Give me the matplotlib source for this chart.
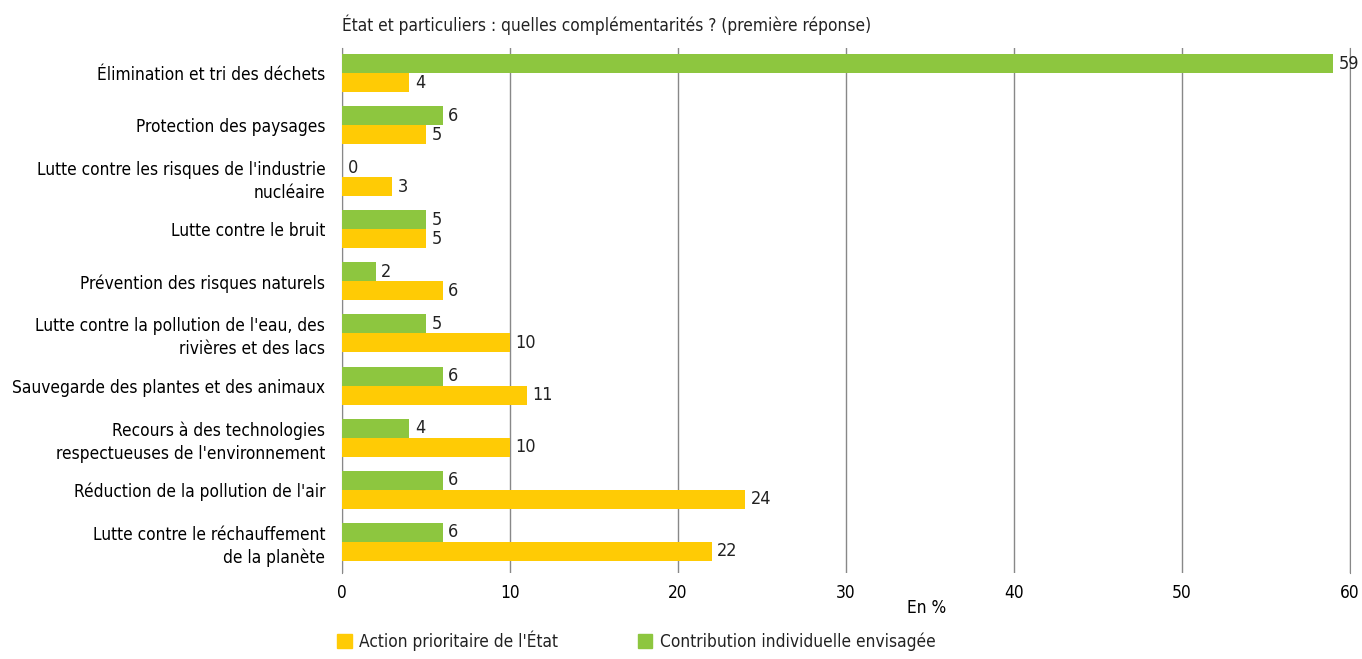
import matplotlib.pyplot as plt
from matplotlib.patches import Patch

categories = [
    "Élimination et tri des déchets",
    "Protection des paysages",
    "Lutte contre les risques de l'industrie\nnucléaire",
    "Lutte contre le bruit",
    "Prévention des risques naturels",
    "Lutte contre la pollution de l'eau, des\nrivières et des lacs",
    "Sauvegarde des plantes et des animaux",
    "Recours à des technologies\nrespectueuses de l'environnement",
    "Réduction de la pollution de l'air",
    "Lutte contre le réchauffement\nde la planète",
]
etat = [4, 5, 3, 5, 6, 10, 11, 10, 24, 22]
individuel = [59, 6, 0, 5, 2, 5, 6, 4, 6, 6]
xticks = [0, 10, 20, 30, 40, 50, 60]

yellow = '#FFCB05'
green = '#8DC63F'
fs = 12.4

plt.rcParams['font.family'] = ['DejaVu Sans']
plt.rcParams['font.stretch'] = 'condensed'
plt.rcParams['font.size'] = fs
plt.rcParams['text.color'] = '#222222'

fig = plt.figure(figsize=(13.62, 6.59), dpi=100)
ax = fig.add_axes([0.2511, 0.1305, 0.7401, 0.7965])

h = 0.365
pos = list(range(len(categories)))
ax.barh([p - h / 2 for p in pos], individuel, height=h, color=green, zorder=3)
ax.barh([p + h / 2 for p in pos], etat, height=h, color=yellow, zorder=3)

for p, v in zip(pos, individuel):
    ax.annotate(f'{v}', xy=(v, p - h / 2), xytext=(4, 0), textcoords='offset points',
                ha='left', va='center', fontsize=fs + 0.6, zorder=4)
for p, v in zip(pos, etat):
    ax.annotate(f'{v}', xy=(v, p + h / 2), xytext=(4, 0), textcoords='offset points',
                ha='left', va='center', fontsize=fs + 0.6, zorder=4)

ax.set_xlim(0, 60)
ax.set_ylim(len(categories) - 1 + 0.6, -0.48)
ax.set_yticks(pos)
ax.set_yticklabels(categories, fontsize=fs, ha='right', linespacing=1.35)
ax.set_xticks(xticks)
ax.tick_params(axis='y', length=0, pad=12)
ax.tick_params(axis='x', length=0, pad=8, labelsize=fs)
ax.grid(axis='x', color='#888888', linewidth=1, zorder=0)
for s in ['top', 'bottom']:
    ax.spines[s].set_visible(False)
ax.spines['left'].set_color('#888888')
ax.spines['right'].set_color('#888888')

ax.set_xlabel('En %', fontsize=fs)
ax.xaxis.set_label_coords(0.58, -0.05)

fig.text(0.2511, 0.962, "État et particuliers : quelles complémentarités ? (première réponse)",
         ha='left', va='center', fontsize=fs)

handles = [Patch(color=yellow), Patch(color=green)]
fig.legend(handles, ["Action prioritaire de l'État", "Contribution individuelle envisagée"],
           loc='center left', bbox_to_anchor=(0.236, 0.028), ncol=2, frameon=False,
           handlelength=0.85, handleheight=0.85, handletextpad=0.45, columnspacing=4.6,
           fontsize=fs)

fig.savefig('out.png', dpi=100)
